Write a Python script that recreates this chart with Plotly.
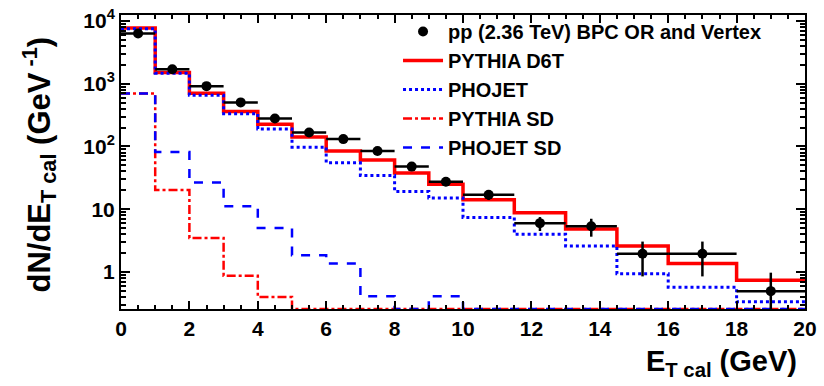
import plotly.graph_objects as go

# ---- data ----
bin_edges = [0, 1, 2, 3, 4, 5, 6, 7, 8, 9, 10, 11.5, 13, 14.5, 16, 18, 20]
data_vals = [6300, 1700, 915, 504, 279, 167, 131, 84.6, 47.8, 27.4, 17.0, 6.0, 5.35, 1.95, 1.95, 0.495]
data_errs = [60, 25, 15, 10, 6, 5, 4, 3, 4, 4, 3, 1.5, 1.7, 1.1, 1.1, 0.48]
pythia_d6t = [7700, 1507, 705, 362, 227, 141, 84.6, 60.7, 37.7, 25.1, 14.2, 8.8, 4.86, 2.6, 1.36, 0.74]
phojet = [7500, 1470, 656, 333, 190, 97.5, 55, 34.6, 19.2, 15.1, 7.4, 4.0, 2.6, 0.94, 0.57, 0.334]
pythia_sd = [700, 20.3, 3.49, 0.87, 0.40, 0, 0, 0, 0, 0, 0, 0, 0, 0, 0, 0]
phojet_sd = [700, 81.6, 26.7, 11.2, 5.04, 1.84, 1.36, 0.41, 0, 0.41, 0, 0, 0, 0, 0, 0]

y_log_range = [-0.59, 4.095]
y_floor = 10 ** y_log_range[0]  # empty bins drawn on the frame, as ROOT does

tick_vals_y = [1, 10, 100, 1000, 10000]
tick_text_y = ["1", "10", "10<sup>2</sup>", "10<sup>3</sup>", "10<sup>4</sup>"]
minor_vals_y = [m * 10 ** e for e in range(-1, 5) for m in range(2, 10)]

centers = [(a + b) / 2 for a, b in zip(bin_edges[:-1], bin_edges[1:])]
halfw = [(b - a) / 2 for a, b in zip(bin_edges[:-1], bin_edges[1:])]

FONT = "Liberation Sans"

def step(vals):
    v = [max(x, y_floor) for x in vals]
    return bin_edges, v + [v[-1]]

fig = go.Figure()

def add_hist(name, vals, color, dash, width, rank):
    xs, ys = step(vals)
    fig.add_trace(go.Scatter(x=xs, y=ys, mode="lines", line_shape="hv",
                             line=dict(color=color, dash=dash, width=width),
                             name=name, legendgroup=name, legendrank=rank))

add_hist("PYTHIA D6T", pythia_d6t, "#ff0000", "solid", 3.5, 2)
add_hist("PHOJET", phojet, "#0000ff", "dot", 3, 3)
add_hist("PYTHIA SD", pythia_sd, "#ff0000", "dashdot", 2.5, 4)
add_hist("PHOJET SD", phojet_sd, "#0000ff", "dash", 2.5, 5)

fig.add_trace(go.Scatter(
    x=centers, y=data_vals, mode="markers", name="pp (2.36 TeV) BPC OR and Vertex",
    legendgroup="data", legendrank=1,
    marker=dict(color="black", size=10),
    error_y=dict(type="data", array=data_errs, color="black", thickness=2.5, width=0),
    error_x=dict(type="data", array=halfw, color="black", thickness=2.5, width=0),
))

fig.update_layout(
    width=824, height=386,
    margin=dict(l=121, r=11, t=7, b=77),
    paper_bgcolor="white", plot_bgcolor="white",
    font=dict(family=FONT, size=20, color="black", weight="bold"),
    showlegend=True,
    legend=dict(
        x=0.405, y=1.01, xanchor="left", yanchor="top",
        bgcolor="rgba(0,0,0,0)", borderwidth=0,
        font=dict(family=FONT, size=20, color="black", weight="bold"),
        traceorder="grouped", tracegroupgap=0, itemwidth=40,
    ),
)

fig.update_xaxes(
    range=[0, 20], showgrid=False, zeroline=False,
    showline=True, linecolor="black", linewidth=2, mirror="ticks",
    ticks="inside", ticklen=8, tickwidth=1.5, tickcolor="black",
    tick0=0, dtick=2, ticklabeloverflow="allow",
    minor=dict(ticks="inside", ticklen=4, tickwidth=1.5, tickcolor="black", dtick=0.5),
    tickfont=dict(family=FONT, size=21, color="black", weight="bold"),
)
fig.update_yaxes(
    type="log", range=y_log_range, showgrid=False, zeroline=False,
    showline=True, linecolor="black", linewidth=2, mirror="ticks",
    ticks="inside", ticklen=9, tickwidth=2, tickcolor="black",
    tickvals=tick_vals_y, ticktext=tick_text_y,
    minor=dict(ticks="inside", ticklen=5, tickwidth=1.5, tickcolor="black",
               tickvals=minor_vals_y, showgrid=False),
    tickfont=dict(family=FONT, size=21, color="black", weight="bold"),
)

fig.add_annotation(
    text="E<sub>T cal</sub> (GeV)", xref="paper", yref="paper",
    x=1 - 6 / 691, y=-0.115, xanchor="right", yanchor="top", showarrow=False,
    font=dict(family=FONT, size=29, color="black", weight="bold"),
)
fig.add_annotation(
    text="dN/dE<sub>T cal</sub> (GeV<sup> -1</sup>)", xref="paper", yref="paper",
    x=-0.119, y=0.49, xanchor="center", yanchor="middle", textangle=-90,
    showarrow=False,
    font=dict(family=FONT, size=31, color="black", weight="bold"),
)

fig.write_html("out.html")
